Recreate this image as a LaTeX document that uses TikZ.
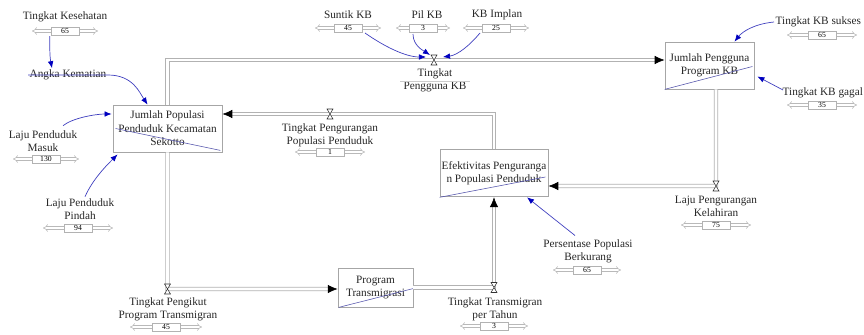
\documentclass[tikz,border=0pt]{standalone}
\usepackage{fontspec}
\setmainfont{Liberation Serif}
\usetikzlibrary{calc}
\usetikzlibrary{arrows.meta}

\tikzset{
  stock/.style={draw=gray!70, line width=0.6pt, fill=white, align=center, inner sep=1pt,
    font=\fontsize{8}{9.5}\selectfont, text=black!85},
  lbl/.style={align=center, font=\fontsize{8}{9.5}\selectfont, text=black!85, inner sep=1pt},
  pipe/.style={draw=gray!60, double=white, double distance=1.8pt, line width=0.6pt},
  flowtip/.style={-{Latex[length=7pt,width=6pt]}, line width=0.4pt, black},
  infl/.style={draw=blue!50!gray, line width=0.5pt, -{Latex[length=5pt,width=4pt,color=blue!75!black]}},
  strike/.style={draw=blue!35!gray, line width=0.4pt},
  slidebar/.style={draw=gray!55, double=white, double distance=1.4pt, line width=0.4pt, {Implies}-{Implies}},
  slidebox/.style={draw=gray!60, fill=white, inner sep=0pt, minimum width=20pt, minimum height=5.5pt,
    font=\fontsize{5.5}{6}\selectfont},
  valvemark/.style={draw=gray!40!black, fill=white, line width=0.4pt},
}

% slider: name, position, value, half width
\newcommand{\sliderbar}[4]{%
  \draw[slidebar] ($(#2)+(-#4,0)$) -- ($(#2)+(#4,0)$);
  \node[slidebox] (#1) at (#2) {#3};
}
% valve drawn on a named coordinate
\newcommand{\drawvalve}[1]{%
  \draw[valvemark] ($(#1)+(-3,-5)$) -- ($(#1)+(3,-5)$) -- ($(#1)+(-3,5)$) -- ($(#1)+(3,5)$) -- cycle;
}

\begin{document}
\begin{tikzpicture}[x=0.025cm, y=-0.025cm]
  \useasboundingbox (0,0) rectangle (864,335);
  \clip (0,0) rectangle (864,335);

  % stocks
  \node[stock, minimum width=77.5pt, minimum height=33.4pt] (pop) at (167.5,128.5) {Jumlah Populasi\\Penduduk Kecamatan\\Sekotto};
  \node[stock, minimum width=63.3pt, minimum height=33.4pt] (kb) at (709.5,65.5) {Jumlah Pengguna\\Program KB};
  \node[stock, minimum width=76.8pt, minimum height=34pt] (ef) at (494,173) {Efektivitas Penguranga\\n Populasi Penduduk};
  \node[stock, minimum width=53.3pt, minimum height=27.7pt] (pt) at (375.5,287.5) {Program\\Transmigrasi};

  % lines across the stocks
  \draw[strike] ($(pop.west)+(3,0)$) -- ($(pop.south east)+(-2,-2)$);
  \draw[strike] (kb.south west) -- ($(kb.east)+(-2,1)$);
  \draw[strike] (ef.south west) -- ($(ef.east)+(-3,4)$);
  \draw[strike] ($(pt.south west)+(1,0)$) -- ($(pt.east)+(0,1)$);

  % valves
  \coordinate (v1) at (434,60);
  \coordinate (v2) at (716,186);
  \coordinate (v3) at (330,114);
  \coordinate (v4) at (167.5,289);
  \coordinate (v5) at (494,287.5);

  % flows
  \draw[pipe] (pop.north) |- (v1) -- ($(kb.west)+(-7,-5.5)$);
  \draw[flowtip] ($(kb.west)+(-9,-5.5)$) -- ($(kb.west)+(0,-5.5)$);
  \draw[pipe] ($(kb.south)+(6.5,0)$) -- (v2) -- ($(ef.east)+(7,13)$);
  \draw[flowtip] ($(ef.east)+(9,13)$) -- ($(ef.east)+(0,13)$);
  \draw[pipe] (ef.north) |- (v3) -- ($(pop.east)+(7,-14.5)$);
  \draw[flowtip] ($(pop.east)+(9,-14.5)$) -- ($(pop.east)+(0,-14.5)$);
  \draw[pipe] (pop.south) -- (v4) -- ($(pt.west)+(-7,1.5)$);
  \draw[flowtip] ($(pt.west)+(-9,1.5)$) -- ($(pt.west)+(0,1.5)$);
  \draw[pipe] (pt.east) -- (v5) -- ($(ef.south)+(0,7)$);
  \draw[flowtip] ($(ef.south)+(0,9)$) -- (ef.south);

  \drawvalve{v1}
  \drawvalve{v2}
  \drawvalve{v3}
  \drawvalve{v4}
  \drawvalve{v5}

  % flow labels and sliders
  \node[lbl] (v1lbl) at (435,80) {Tingkat\\Pengguna KB};
  \draw[gray!40, line width=0.3pt] (400,81.5) -- (470,81.5);
  \node[lbl] (v2lbl) at (716,206.5) {Laju Pengurangan\\Kelahiran};
  \sliderbar{s2}{716,225}{75}{35}
  \node[lbl] (v3lbl) at (330,135) {Tingkat Pengurangan\\Populasi Penduduk};
  \sliderbar{s3}{330,152}{1}{35}
  \node[lbl] (v4lbl) at (168,309.5) {Tingkat Pengikut\\Program Transmigran};
  \sliderbar{s4}{166,327}{45}{36}
  \node[lbl] (v5lbl) at (495,309.5) {Tingkat Transmigran\\per Tahun};
  \sliderbar{s5}{494,326}{3}{34}

  % constants and auxiliaries
  \node[lbl] (kes) at (65,17) {Tingkat Kesehatan};
  \sliderbar{skes}{65,31}{65}{33}
  \node[lbl] (ak) at (68,75) {Angka Kematian};
  \node[lbl] (masuk) at (43,141) {Laju Penduduk\\Masuk};
  \sliderbar{smasuk}{46,159}{130}{33}
  \node[lbl] (pindah) at (80,209) {Laju Penduduk\\Pindah};
  \sliderbar{spindah}{78,228}{94}{35}
  \node[lbl] (suntik) at (348,15) {Suntik KB};
  \sliderbar{ssuntik}{348,28}{45}{33}
  \node[lbl] (pil) at (427,15) {Pil KB};
  \sliderbar{spil}{423,28}{3}{27}
  \node[lbl] (implan) at (497,15) {KB Implan};
  \sliderbar{simplan}{496,28}{25}{33}
  \node[lbl, anchor=west] (sukses) at (774,22) {Tingkat KB sukses};
  \sliderbar{ssukses}{822,35}{65}{35}
  \node[lbl, anchor=west] (gagal) at (781,93) {Tingkat KB gagal};
  \sliderbar{sgagal}{822,105}{35}{35}
  \node[lbl] (pers) at (588,251) {Persentase Populasi\\Berkurang};
  \sliderbar{spers}{587,270}{65}{34}

  % influences
  \draw[infl] ($(skes.south west)+(-1,1)$) .. controls +(0,14) and +(-2,-10) .. ($(ak.north)+(-16,0)$);
  \draw[infl] (ak.west) -- (ak.east) .. controls +(25,0) and +(-8,-12) .. ($(pop.north west)+(35,0)$);
  \draw[infl] ($(masuk.north)+(20,-3)$) .. controls +(10,-8) and +(-15,0) .. ($(pop.west)+(-1,-14.5)$);
  \draw[infl] ($(pindah.north)+(5,0)$) .. controls +(8,-18) and +(-10,10) .. ($(pop.south west)+(5,2)$);
  \draw[infl] ($(ssuntik)+(17,5)$) .. controls +(20,14) and +(-20,0) .. ($(v1)+(-8,-3)$);
  \draw[infl] ($(spil)+(-10,6)$) .. controls +(0,12) and +(-6,-4) .. ($(v1)+(-4,-5)$);
  \draw[infl] ($(simplan)+(-16,5)$) .. controls +(-10,12) and +(15,-2) .. ($(v1)+(9,-3)$);
  \draw[infl] (sukses.west) .. controls +(-20,2) and +(8,-10) .. ($(kb.north)+(25,0)$);
  \draw[infl] ($(gagal.west)+(2,-3)$) -- ($(kb.east)+(3,11)$);
  \draw[infl] ($(pers.north)+(-13,-2)$) -- ($(ef.south)+(33,0)$);
\end{tikzpicture}
\end{document}
